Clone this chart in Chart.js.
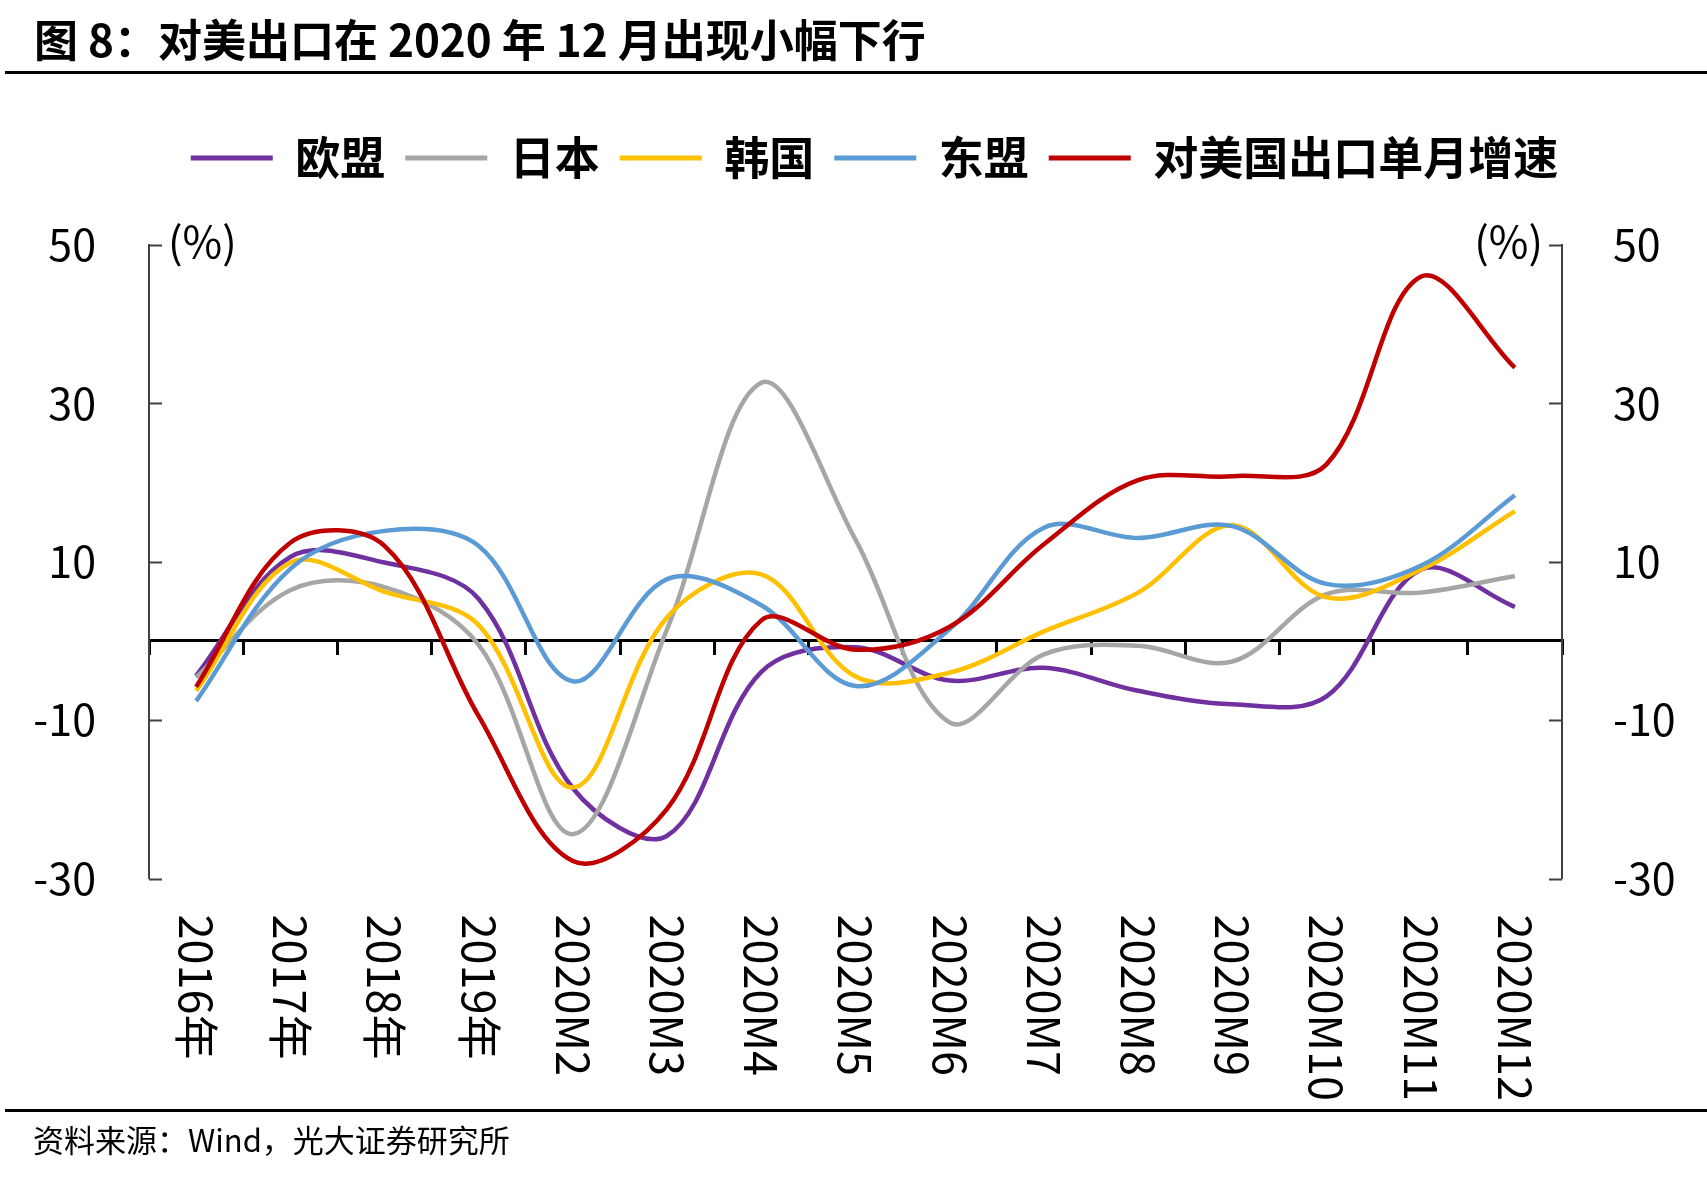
<!DOCTYPE html>
<html lang="zh-CN">
<head>
<meta charset="UTF-8">
<title>对美出口</title>
<script src="https://cdn.jsdelivr.net/npm/chart.js"></script>
<style>
  html, body { margin: 0; padding: 0; background: #fff; }
  body { width: 1707px; height: 1177px; position: relative; overflow: hidden; font-family: "Noto Sans CJK SC", sans-serif; }
  #chart-box { position: absolute; left: 0; top: 0; width: 1749px; height: 1177px; }
  #title { position: absolute; left: 34px; top: 15px; font-size: 44px; line-height: 46px; font-weight: 700; color: #000; white-space: nowrap; }
  .rule { position: absolute; left: 5px; right: 0; height: 3px; background: #000; }
  #source { position: absolute; left: 33px; top: 1121px; font-size: 31px; line-height: 36px; color: #000; white-space: nowrap; }
</style>
</head>
<body>
<div id="chart-box"><canvas id="chart"></canvas></div>
<div id="title">图 8：对美出口在 2020 年 12 月出现小幅下行</div>
<div class="rule" style="top:71px"></div>
<div class="rule" style="top:1109px"></div>
<div id="source">资料来源：Wind，光大证券研究所</div>

<script>
// categories
const labels = ['2016年', '2017年', '2018年', '2019年', '2020M2', '2020M3', '2020M4', '2020M5',
  '2020M6', '2020M7', '2020M8', '2020M9', '2020M10', '2020M11', '2020M12'];

// series, % yoy
const eu    = [-4.4, 10.6, 9.9, 5.3, -18.6, -24.6, -3.9, -0.8, -5.0, -3.4, -6.3, -8.0, -7.0, 9.0, 4.3];
const japan = [-4.6, 6.4, 6.8, -0.5, -24.4, 1.5, 32.6, 12.8, -10.3, -1.7, -0.6, -2.6, 5.9, 6.1, 8.2];
const korea = [-6.3, 9.9, 6.2, 2.0, -18.5, 3.0, 8.4, -4.5, -4.0, 1.2, 6.1, 14.6, 5.5, 9.0, 16.4];
const asean = [-7.6, 9.1, 13.9, 12.0, -5.1, 7.8, 4.5, -5.7, 1.5, 14.3, 13.0, 14.5, 7.2, 9.5, 18.4];
const usa   = [-5.8, 12.4, 12.0, -9.5, -27.8, -21.2, 2.6, -1.1, 1.8, 12.2, 20.3, 20.8, 22.3, 46.0, 34.5];

// axis ticks
const yMin = -30, yMax = 50, yStep = 20;

const FONT = '"Noto Sans CJK SC", sans-serif';
const LEGEND_GAP = 54.5;

Chart.defaults.font.family = FONT;
Chart.defaults.color = '#000';

function series(label, data, color, order) {
  return {
    label, data, order,
    borderColor: color,
    backgroundColor: color,
    borderWidth: 4.5,
    pointRadius: 0,
    tension: 0.35,
    fill: false
  };
}

// extra space under legend, inward ticks, (%) marks and rotated category labels
const decor = {
  id: 'decor',
  beforeInit(chart) {
    const fit = chart.legend.fit;
    chart.legend.fit = function () {
      fit.call(this);
      this.height += LEGEND_GAP;
    };
  },
  afterDraw(chart) {
    const { ctx, chartArea: a, scales } = chart;
    ctx.save();
    ctx.strokeStyle = '#404040';
    ctx.lineWidth = 2;
    scales.y.ticks.forEach(t => {
      const py = Math.round(scales.y.getPixelForValue(t.value)) + 0.5;
      ctx.beginPath();
      ctx.moveTo(a.left, py); ctx.lineTo(a.left + 13, py);
      ctx.moveTo(a.right - 13, py); ctx.lineTo(a.right, py);
      ctx.stroke();
    });

    ctx.fillStyle = '#000';
    ctx.textBaseline = 'middle';
    ctx.font = '43px ' + FONT;
    const topY = scales.y.getPixelForValue(yMax) - 3;
    ctx.textAlign = 'left';
    ctx.fillText('(%)', a.left + 19, topY);
    ctx.textAlign = 'right';
    ctx.fillText('(%)', a.right - 19, topY);

    ctx.font = '45px ' + FONT;
    ctx.textAlign = 'left';
    labels.forEach((lab, i) => {
      const px = scales.x.getPixelForValue(i);
      ctx.save();
      ctx.translate(px, a.bottom + 36);
      ctx.rotate(Math.PI / 2);
      ctx.fillText(lab, 0, 0);
      ctx.restore();
    });
    ctx.restore();
  }
};

const yTicks = {
  min: yMin, max: yMax,
  ticks: { stepSize: yStep, font: { size: 43 }, color: '#000' },
  grid: { display: false, drawTicks: false },
  border: { display: true, color: '#404040', width: 2 }
};

new Chart(document.getElementById('chart'), {
  type: 'line',
  data: {
    labels,
    datasets: [
      series('欧盟', eu, '#7030A0', 5),
      series('日本', japan, '#A6A6A6', 4),
      series('韩国', korea, '#FFC000', 3),
      series('东盟', asean, '#5B9BD5', 2),
      series('对美国出口单月增速', usa, '#C00000', 1)
    ]
  },
  options: {
    responsive: true,
    maintainAspectRatio: false,
    animation: false,
    events: [],
    layout: { padding: { left: 0, top: 115.5, right: 0, bottom: 298.5 } },
    plugins: {
      tooltip: { enabled: false },
      title: { display: false },
      legend: {
        display: true,
        position: 'top',
        labels: {
          font: { size: 45, weight: 'bold' },
          color: '#000',
          boxWidth: 82,
          boxHeight: 5,
          padding: 20,
          sort: (a, b) => a.datasetIndex - b.datasetIndex,
          generateLabels(chart) {
            return Chart.defaults.plugins.legend.labels.generateLabels(chart).map(item => {
              item.lineWidth = 0;
              item.fillStyle = item.strokeStyle;
              return item;
            });
          }
        }
      }
    },
    scales: {
      x: {
        type: 'category',
        position: { y: 0 },
        offset: true,
        ticks: { display: false },
        grid: { display: true, offset: true, drawOnChartArea: false, drawTicks: true, tickLength: 13, color: '#000', lineWidth: 3 },
        border: { display: true, color: '#000', width: 3 }
      },
      y: Object.assign({ position: 'left', afterFit: s => { s.width = 149; } }, yTicks,
        { ticks: Object.assign({}, yTicks.ticks, { padding: 53 }) }),
      y1: Object.assign({ position: 'right', afterFit: s => { s.width = 187; } }, yTicks,
        { ticks: Object.assign({}, yTicks.ticks, { padding: 51 }) })
    }
  },
  plugins: [decor]
});
</script>
</body>
</html>
